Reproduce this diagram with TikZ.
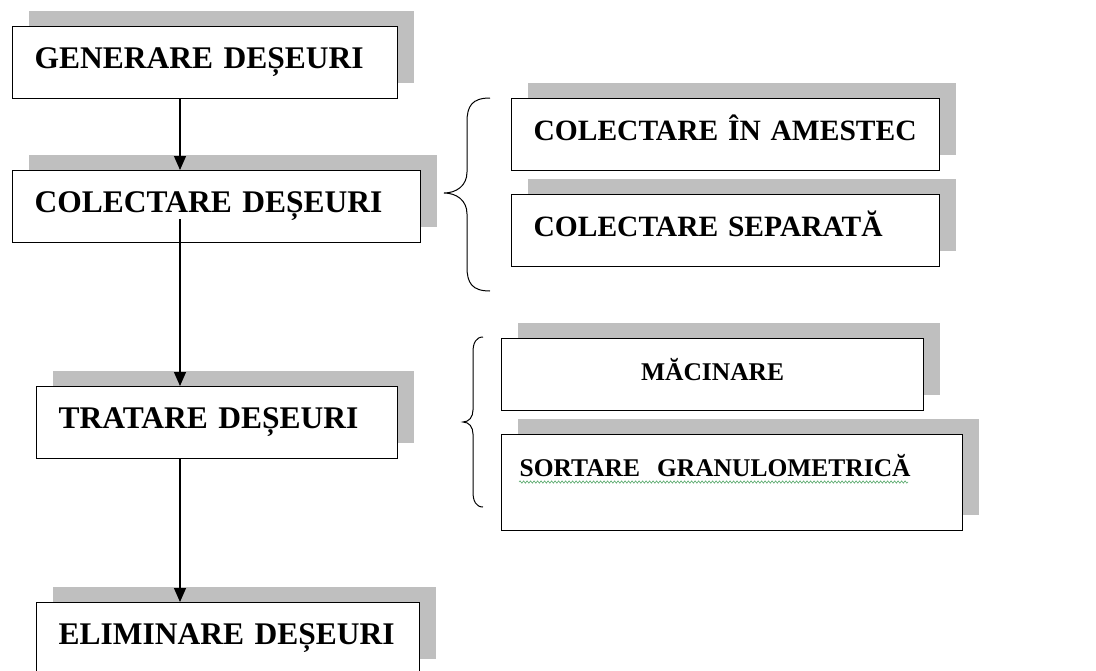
\documentclass[tikz,border=0pt]{standalone}
\usepackage{fontspec}
\setmainfont{Liberation Serif}
\usetikzlibrary{arrows.meta,shadows,decorations.pathmorphing}

\definecolor{shadowgray}{RGB}{191,191,191}
\definecolor{spellgreen}{RGB}{90,170,110}

\newcommand{\bigcaps}{\fontsize{31.5}{36}\selectfont\bfseries}
\newcommand{\midcaps}{\fontsize{29.5}{34}\selectfont\bfseries}
\newcommand{\lowcaps}{\fontsize{25.5}{30}\selectfont\bfseries}

\tikzset{
  stage/.style={draw, fill=white, line width=1.2pt, inner xsep=22pt, inner ysep=0pt,
    minimum height=72pt, text height=22pt, text depth=11pt, align=left,
    anchor=north west, text width=#1,
    drop shadow={shadow xshift=16pt, shadow yshift=16pt, opacity=1, fill=shadowgray}},
  flow/.style={line width=1.2pt, -{Triangle[length=14pt,width=12pt]}},
  curly/.style={line width=1pt}
}

\begin{document}
\begin{tikzpicture}[x=1pt,y=-1pt]
\useasboundingbox (0,0) rectangle (1096,670);
\clip (0,0) rectangle (1096,670);

% main chain
\node[stage=341pt, font=\bigcaps] (gen) at (12,26) {GENERARE DEȘEURI};
\node[stage=364pt, font=\bigcaps] (col) at (12,170) {COLECTARE DEȘEURI};
\node[stage=317pt, font=\bigcaps] (trat) at (36,386) {TRATARE DEȘEURI};
\node[stage=339pt, font=\bigcaps] (elim) at (36,602) {ELIMINARE DEȘEURI};

% sub steps
\node[stage=384pt, font=\midcaps] (amest) at (511,98) {COLECTARE ÎN AMESTEC};
\node[stage=384pt, font=\midcaps] (separ) at (511,194) {COLECTARE SEPARATĂ};
\node[stage=378pt, font=\lowcaps, align=center] (macin) at (501,338) {MĂCINARE};
\node[stage=425pt, font=\lowcaps, inner xsep=18pt, minimum height=96pt, text depth=34pt] (sort) at (501,434) {SORTARE\ \ GRANULOMETRICĂ};

% arrows
\coordinate (spine) at (180,0);
\path (col.south -| spine) ++(0,-24) coordinate (colout);
\draw[flow] (gen.south -| spine) -- (col.north -| spine);
\draw[flow] (colout) -- (trat.north -| spine);
\draw[flow] (trat.south -| spine) -- (elim.north -| spine);

% braces
\draw[curly] (490,98) .. controls (472,98) and (467,106) .. (467,122) -- (467,172)
  .. controls (467,186) and (456,193) .. (444,193)
  .. controls (456,193) and (467,200) .. (467,214) -- (467,267)
  .. controls (467,283) and (472,291) .. (490,291);
\draw[curly] (483,337) .. controls (476,337) and (473,343) .. (473,352) -- (473,410)
  .. controls (473,417) and (469,422) .. (463,422)
  .. controls (469,422) and (473,427) .. (473,434) -- (473,492)
  .. controls (473,501) and (476,507) .. (483,507);

% spell check wave
\draw[spellgreen, line width=0.6pt, decorate, decoration={snake, amplitude=1.2pt, segment length=3.5pt}]
  (519,482) -- (908,482);
\end{tikzpicture}
\end{document}
